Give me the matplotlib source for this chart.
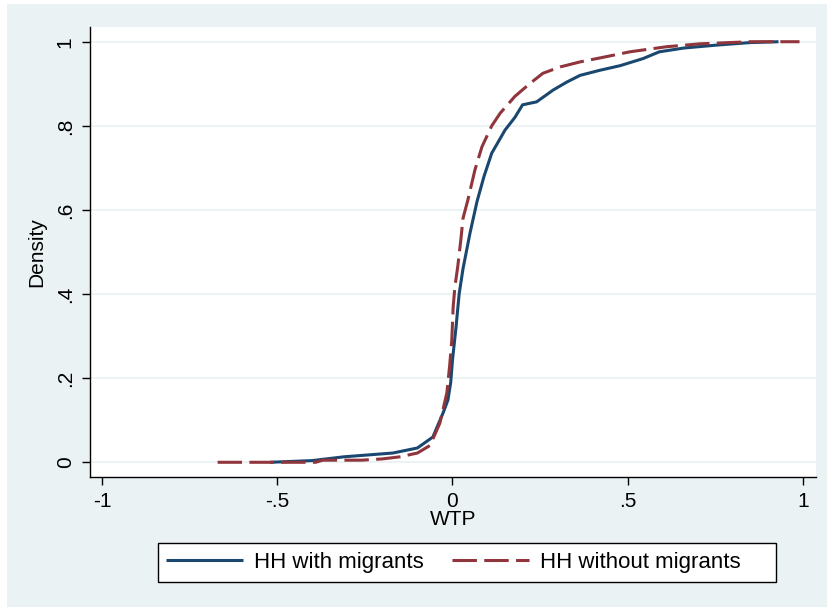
import matplotlib
matplotlib.use("Agg")
import matplotlib.pyplot as plt
from matplotlib.patches import Rectangle

with_x = [-0.52, -0.40, -0.31, -0.17, -0.10, -0.056, -0.027, -0.013, -0.005, 0.0,
          0.010, 0.019, 0.03, 0.05, 0.07, 0.09, 0.112, 0.15, 0.178, 0.20, 0.24,
          0.287, 0.326, 0.364, 0.42, 0.478, 0.544, 0.59, 0.66, 0.754, 0.85, 0.93]
with_y = [0.0, 0.004, 0.013, 0.022, 0.034, 0.06, 0.117, 0.148, 0.19, 0.243,
          0.32, 0.40, 0.46, 0.545, 0.62, 0.68, 0.735, 0.79, 0.82, 0.85, 0.857,
          0.885, 0.904, 0.92, 0.932, 0.943, 0.96, 0.976, 0.985, 0.992, 0.998, 1.0]

without_x = [-0.67, -0.39, -0.37, -0.26, -0.20, -0.15, -0.10, -0.064, -0.036, -0.016,
             -0.008, -0.002, 0.002, 0.007, 0.015, 0.024, 0.03, 0.044, 0.064, 0.084,
             0.112, 0.136, 0.178, 0.22, 0.258, 0.307, 0.364, 0.43, 0.506, 0.61,
             0.706, 0.85, 0.99]
without_y = [0.0, 0.0, 0.005, 0.005, 0.008, 0.013, 0.022, 0.04, 0.093, 0.165,
             0.23, 0.29, 0.37, 0.418, 0.465, 0.53, 0.58, 0.624, 0.695, 0.75,
             0.80, 0.83, 0.87, 0.90, 0.925, 0.94, 0.952, 0.963, 0.976, 0.988,
             0.995, 1.0, 1.0]

xticks = [-1, -0.5, 0, 0.5, 1]
xtick_labels = ["-1", "-.5", "0", ".5", "1"]
yticks = [0, 0.2, 0.4, 0.6, 0.8, 1.0]
ytick_labels = ["0", ".2", ".4", ".6", ".8", "1"]
labels = ["HH with migrants", "HH without migrants"]

BG = "#EAF2F3"
NAVY = "#1A476F"
MAROON = "#90353B"
FS = 15
LFS = 16

plt.rcParams["font.family"] = ["Liberation Sans", "DejaVu Sans"]

W, H = 827, 607
fig = plt.figure(figsize=(W / 100, H / 100), dpi=100, facecolor=BG)
# white border strip on left and top
fig.patches.append(Rectangle((0, 0), 7 / W, 1, transform=fig.transFigure,
                             facecolor="white", edgecolor="none", zorder=0))
fig.patches.append(Rectangle((0, 1 - 4 / H), 1, 4 / H, transform=fig.transFigure,
                             facecolor="white", edgecolor="none", zorder=0))

ax = fig.add_axes([90 / W, 1 - 477 / H, (816 - 90) / W, (477 - 27) / H])
ax.set_facecolor("white")

ax.grid(axis="y", color=BG, linewidth=1.3, zorder=0)
ax.set_axisbelow(True)

l1, = ax.plot(with_x, with_y, color=NAVY, linewidth=2.2, solid_capstyle="butt",
              label=labels[0], zorder=3)
l2, = ax.plot(without_x, without_y, color=MAROON, linewidth=2.2,
              linestyle=(0, (8, 2.4)), dash_capstyle="butt",
              label=labels[1], zorder=4)

ax.set_xlim(-1.034, 1.037)
ax.set_ylim(-0.035, 1.035)

ax.set_xticks(xticks)
ax.set_xticklabels(xtick_labels)
ax.set_yticks(yticks)
ax.set_yticklabels(ytick_labels, rotation=90, va="center")

for s in ["top", "right"]:
    ax.spines[s].set_visible(False)
for s in ["left", "bottom"]:
    ax.spines[s].set_color("black")
    ax.spines[s].set_linewidth(1.0)

ax.tick_params(axis="both", direction="out", length=6, width=1.0, color="black",
               labelsize=FS, labelcolor="black")
ax.tick_params(axis="x", pad=5)
ax.tick_params(axis="y", pad=5)

ax.set_xlabel("WTP", fontsize=FS, labelpad=-1)
ax.set_ylabel("Density", fontsize=FS, labelpad=7)

# legend box
x0, x1, y0, y1 = 158, 776, 543, 582
fig.patches.append(Rectangle((x0 / W, 1 - y1 / H), (x1 - x0) / W, (y1 - y0) / H,
                             transform=fig.transFigure, facecolor="white",
                             edgecolor="black", linewidth=1.0, zorder=1))
leg = fig.legend([l1, l2], labels, loc="center left",
                 bbox_to_anchor=(166 / W, 1 - 562.5 / H), ncol=2, frameon=False,
                 fontsize=LFS, handlelength=3.45, handletextpad=0.5,
                 columnspacing=1.3, borderaxespad=0, borderpad=0)
leg.set_zorder(5)

fig.savefig("out.png", dpi=100, facecolor=BG)
